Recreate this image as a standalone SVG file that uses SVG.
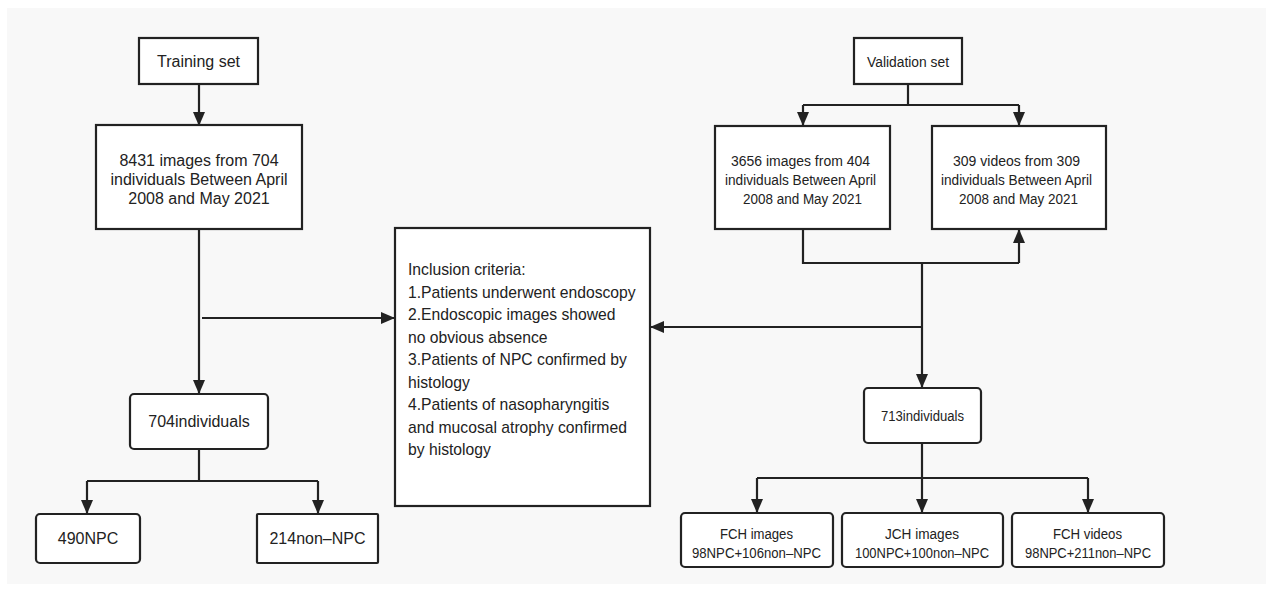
<svg xmlns="http://www.w3.org/2000/svg" width="1273" height="590" viewBox="0 0 1273 590">
<defs>
<marker id="ah" viewBox="0 0 14 12" refX="14" refY="6" markerWidth="14" markerHeight="12" markerUnits="userSpaceOnUse" orient="auto">
<path d="M0,0 L14,6 L0,12 Z" fill="#222"/>
</marker>
<style>
.box{fill:#fff;stroke:#222;stroke-width:2.2}
.t{font-family:"Liberation Sans",Arial,sans-serif;font-size:16px;fill:#222;text-anchor:middle}
.r{font-size:15.5px}
.tl{font-family:"Liberation Sans",Arial,sans-serif;font-size:15.7px;fill:#222}
.c{fill:none;stroke:#222;stroke-width:2.2}
.a{fill:none;stroke:#222;stroke-width:2.2;marker-end:url(#ah)}
</style>
</defs>
<rect x="0" y="0" width="1273" height="590" fill="#fff"/>
<rect x="7" y="8" width="1259" height="576" fill="#f8f8f8"/>

<g id="connectors">
<path class="a" d="M199,84 V126"/>
<path class="a" d="M199,229 V394"/>
<path class="a" d="M202,318 H395"/>
<path class="c" d="M199,449 V481"/>
<path class="c" d="M87,481 H318"/>
<path class="a" d="M87,481 V514"/>
<path class="a" d="M318,481 V514"/>
<path class="c" d="M908,84 V105"/>
<path class="c" d="M803,105 H1019"/>
<path class="a" d="M803,105 V126"/>
<path class="a" d="M1019,105 V126"/>
<path class="c" d="M803,229 V263 H1019"/>
<path class="a" d="M1019,263 V229"/>
<path class="a" d="M922,263 V388"/>
<path class="a" d="M922,327 H650"/>
<path class="c" d="M922,443 V478"/>
<path class="c" d="M757,478 H1088"/>
<path class="a" d="M757,478 V513"/>
<path class="a" d="M922,478 V513"/>
<path class="a" d="M1088,478 V513"/>
</g>

<g id="training">
<rect class="box" x="139" y="38" width="119" height="46"/>
<text class="t" x="198.5" y="66.5">Training set</text>
</g>
<g id="train-images">
<rect class="box" x="96" y="125" width="206" height="104"/>
<text class="t" x="199" y="166">8431 images from 704</text>
<text class="t" x="199" y="185">individuals Between April</text>
<text class="t" x="199" y="204">2008 and May 2021</text>
</g>
<g id="train-individuals">
<rect class="box" x="130" y="394" width="138" height="55" rx="4"/>
<text class="t" x="199" y="427">704individuals</text>
</g>
<g id="npc490">
<rect class="box" x="36" y="514" width="104" height="49" rx="4"/>
<text class="t" x="88" y="544">490NPC</text>
</g>
<g id="nonnpc214">
<rect class="box" x="257" y="514" width="121" height="49" rx="1"/>
<text class="t" x="317.5" y="544">214non–NPC</text>
</g>
<g id="inclusion">
<rect class="box" x="395" y="228" width="255" height="278"/>
<text class="tl" x="408" y="275">Inclusion criteria:</text>
<text class="tl" x="408" y="297.5">1.Patients underwent endoscopy</text>
<text class="tl" x="408" y="320">2.Endoscopic images showed</text>
<text class="tl" x="408" y="342.5">no obvious absence</text>
<text class="tl" x="408" y="365">3.Patients of NPC confirmed by</text>
<text class="tl" x="408" y="387.5">histology</text>
<text class="tl" x="408" y="410">4.Patients of nasopharyngitis</text>
<text class="tl" x="408" y="432.5">and mucosal atrophy confirmed</text>
<text class="tl" x="408" y="455">by histology</text>
</g>
<g id="validation">
<rect class="box" x="854" y="38" width="108" height="46"/>
<text class="t r" x="908" y="66.5" textLength="82" lengthAdjust="spacingAndGlyphs">Validation set</text>
</g>
<g id="val-images">
<rect class="box" x="715" y="126" width="175" height="103"/>
<text class="t r" x="800.5" y="166" textLength="139" lengthAdjust="spacingAndGlyphs">3656 images from 404</text>
<text class="t r" x="800.5" y="185" textLength="151" lengthAdjust="spacingAndGlyphs">individuals Between April</text>
<text class="t r" x="802.5" y="204" textLength="119" lengthAdjust="spacingAndGlyphs">2008 and May 2021</text>
</g>
<g id="val-videos">
<rect class="box" x="932" y="126" width="174" height="103"/>
<text class="t r" x="1016.5" y="166" textLength="127" lengthAdjust="spacingAndGlyphs">309 videos from 309</text>
<text class="t r" x="1016.5" y="185" textLength="151" lengthAdjust="spacingAndGlyphs">individuals Between April</text>
<text class="t r" x="1018.5" y="204" textLength="119" lengthAdjust="spacingAndGlyphs">2008 and May 2021</text>
</g>
<g id="val-individuals">
<rect class="box" x="864" y="388" width="117" height="55" rx="4"/>
<text class="t r" x="922.5" y="421" textLength="83" lengthAdjust="spacingAndGlyphs">713individuals</text>
</g>
<g id="fch-images">
<rect class="box" x="681" y="513" width="152" height="54" rx="4"/>
<text class="t r" x="756.5" y="539" textLength="73" lengthAdjust="spacingAndGlyphs">FCH images</text>
<text class="t r" x="756.5" y="558" textLength="129" lengthAdjust="spacingAndGlyphs">98NPC+106non–NPC</text>
</g>
<g id="jch-images">
<rect class="box" x="842" y="513" width="161" height="54" rx="4"/>
<text class="t r" x="922" y="539" textLength="74" lengthAdjust="spacingAndGlyphs">JCH images</text>
<text class="t r" x="922" y="558" textLength="134" lengthAdjust="spacingAndGlyphs">100NPC+100non–NPC</text>
</g>
<g id="fch-videos">
<rect class="box" x="1012" y="513" width="152" height="54" rx="4"/>
<text class="t r" x="1087.5" y="539" textLength="69" lengthAdjust="spacingAndGlyphs">FCH videos</text>
<text class="t r" x="1088" y="558" textLength="126" lengthAdjust="spacingAndGlyphs">98NPC+211non–NPC</text>
</g>
</svg>
